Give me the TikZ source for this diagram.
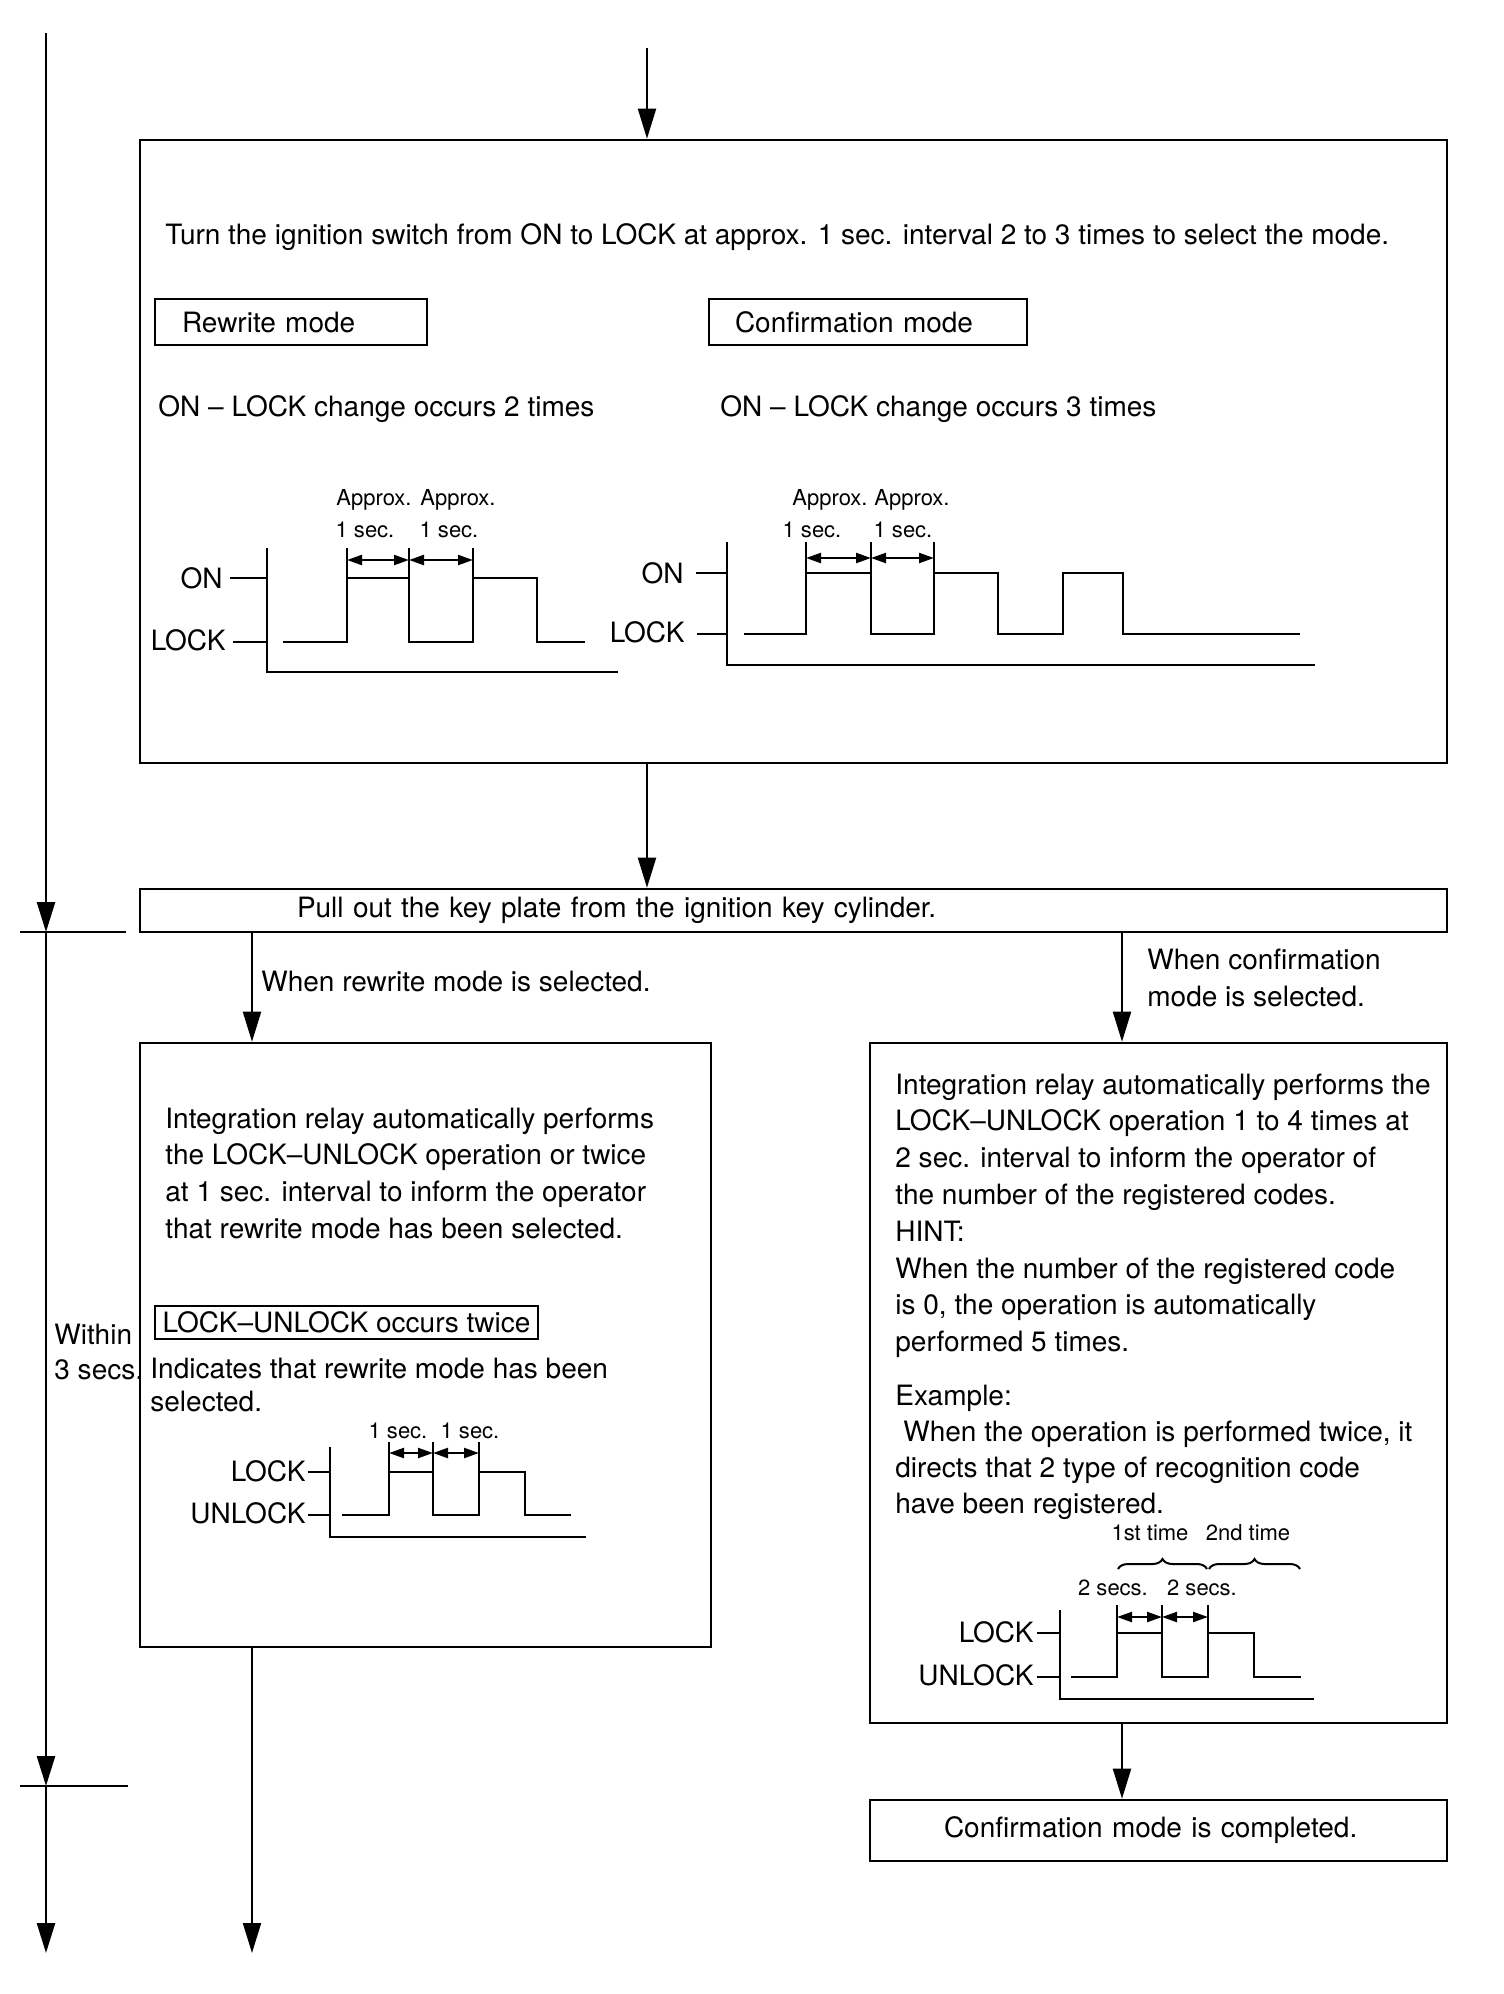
\documentclass[tikz,border=0pt]{standalone}
\usepackage{fontspec}
\setmainfont{TeX Gyre Heros}
\usetikzlibrary{arrows.meta,decorations.pathreplacing}
\begin{document}
\begin{tikzpicture}[x=0.5pt,y=-0.5pt,
  txt/.style={inner sep=0pt, font=\fontsize{14}{18}\selectfont},
  sml/.style={inner sep=0pt, font=\fontsize{11}{13}\selectfont},
  box/.style={draw, line width=1.3pt, inner sep=0pt, font=\fontsize{14}{18}\selectfont},
  arr/.style={line width=1pt, -{Triangle[length=15pt,width=9pt]}},
  sig/.style={line width=1.35pt},
  ext/.style={line width=1pt},
  dimarr/.style={line width=1.1pt, {Triangle[length=7.5pt,width=5pt]}-{Triangle[length=7.5pt,width=5pt]}},
  brc/.style={line width=1pt, decorate, decoration={brace, amplitude=5pt}}
]
\useasboundingbox[fill=white] (0,0) rectangle (1504,1994);

% ---------- main boxes ----------
\node[box, minimum width=653.5pt, minimum height=311.5pt] (top) at (793.5,451.5) {};
\node[box, minimum width=653.5pt, minimum height=21.5pt, text width=496.5pt, align=left] (key) at (793.5,910.5) {Pull out the key plate from the ignition key cylinder.};
\node[box, minimum width=285.5pt, minimum height=302pt] (lbox) at (425.5,1345) {};
\node[box, minimum width=288.5pt, minimum height=340pt] (rbox) at (1158.5,1383) {};
\node[box, minimum width=288.5pt, minimum height=30.5pt, text width=214.5pt, align=left] (done) at (1158.5,1830.5) {Confirmation mode is completed.};

% ---------- connectors ----------
\coordinate (tin) at (647,48);
\coordinate (xl) at (252,0);
\coordinate (xr) at (1122,0);
\coordinate (bl) at (252,1953);
\draw[arr] (tin) -- (top.north -| tin);
\draw[arr] (top.south -| tin) -- (key.north -| tin);
\draw[arr] (key.south -| xl) -- (lbox.north -| xl);
\draw[arr] (key.south -| xr) -- (rbox.north -| xr);
\draw[arr] (rbox.south -| xr) -- (done.north -| xr);
\draw[arr] (lbox.south -| xl) -- (bl);

% ---------- time line ----------
\coordinate (t0) at (46,33);
\coordinate (t1) at (46,932);
\coordinate (t2) at (46,1786);
\coordinate (t3) at (46,1953);
\draw[arr, line width=1.3pt] (t0) -- (t1);
\draw[arr, line width=1.3pt] (t1) -- (t2);
\draw[arr, line width=1.3pt] (t2) -- (t3);
\coordinate (k1a) at (20,932);  \coordinate (k1b) at (126,932);
\coordinate (k2a) at (20,1786); \coordinate (k2b) at (128,1786);
\draw[line width=1.3pt] (k1a) -- (k1b);
\draw[line width=1.3pt] (k2a) -- (k2b);
\node[txt, anchor=base west] (win1) at (54,1344) {Within};
\node[txt, anchor=base west] (win2) at (54,1379) {3 secs.};

% ---------- branch labels ----------
\node[txt, anchor=base west] (brl) at (261,991) {When rewrite mode is selected.};
\node[txt, anchor=base west] (brr1) at (1147,969) {When confirmation};
\node[txt, anchor=base west] (brr2) at (1147,1006) {mode is selected.};

% ---------- top box contents ----------
\node[txt, anchor=base west] (turn) at (165,244) {Turn the ignition switch from ON to LOCK at approx. 1 sec. interval 2 to 3 times to select the mode.};
\node[box, minimum width=136pt, minimum height=23pt, text width=109pt, align=left] (rw) at (291,322) {Rewrite mode};
\node[box, minimum width=159pt, minimum height=23pt, text width=133pt, align=left] (cf) at (868,322) {Confirmation mode};
\node[txt, anchor=base west] (ch2) at (158,416) {ON – LOCK change occurs 2 times};
\node[txt, anchor=base west] (ch3) at (720,416) {ON – LOCK change occurs 3 times};

% timing diagram 1
\draw[sig] (267,548) -- (267,672) -- (618,672);
\draw[sig] (230,578) -- (267,578);
\draw[sig] (233,642) -- (267,642);
\node[txt, anchor=east] (on1) at (223,578) {ON};
\node[txt, anchor=east] (lk1) at (226,640) {LOCK};
\draw[sig] (283,642) -| (347,578) -| (409,642) -| (473,578) -| (537,642) -- (585,642);
\draw[ext] (347,548) -- (347,578);
\draw[ext] (409,548) -- (409,578);
\draw[ext] (473,548) -- (473,578);
\draw[dimarr] (347,560) -- (409,560);
\draw[dimarr] (409,560) -- (473,560);
\node[sml] (ap1a) at (374,500) {Approx.};
\node[sml] (ap1b) at (458,500) {Approx.};
\node[sml] (s1a) at (365,530) {1 sec.};
\node[sml] (s1b) at (449,530) {1 sec.};

% timing diagram 2
\draw[sig] (727,542) -- (727,665) -- (1315,665);
\draw[sig] (696,573) -- (727,573);
\draw[sig] (697,634) -- (727,634);
\node[txt, anchor=east] (on2) at (684,573) {ON};
\node[txt, anchor=east] (lk2) at (685,632) {LOCK};
\draw[sig] (744,634) -| (806,573) -| (871,634) -| (934,573) -| (998,634) -| (1063,573) -| (1123,634) -- (1300,634);
\draw[ext] (806,542) -- (806,573);
\draw[ext] (871,542) -- (871,573);
\draw[ext] (934,542) -- (934,573);
\draw[dimarr] (806,558) -- (871,558);
\draw[dimarr] (871,558) -- (934,558);
\node[sml] (ap2a) at (830,500) {Approx.};
\node[sml] (ap2b) at (912,500) {Approx.};
\node[sml] (s2a) at (812,530) {1 sec.};
\node[sml] (s2b) at (903,530) {1 sec.};

% ---------- left box contents ----------
\foreach \s [count=\i] in {
  {Integration relay automatically performs},
  {the LOCK–UNLOCK operation or twice},
  {at 1 sec. interval to inform the operator},
  {that rewrite mode has been selected.}}
  \node[txt, anchor=base west] (lt\i) at (165,{1128+36.7*(\i-1)}) {\s};
\node[box, minimum width=191.5pt, minimum height=16.5pt] (luo) at (346.5,1322.5) {LOCK–UNLOCK occurs twice};
\node[txt, anchor=base west] (ind1) at (150,1378) {Indicates that rewrite mode has been};
\node[txt, anchor=base west] (ind2) at (150,1411) {selected.};

% timing diagram 3
\draw[sig] (330,1447) -- (330,1537) -- (586,1537);
\draw[sig] (308,1472) -- (330,1472);
\draw[sig] (308,1515) -- (330,1515);
\node[txt, anchor=east] (lk3) at (306,1471) {LOCK};
\node[txt, anchor=east] (ul3) at (306,1513) {UNLOCK};
\draw[sig] (342,1515) -| (389,1472) -| (433,1515) -| (479,1472) -| (525,1515) -- (571,1515);
\draw[ext] (389,1442) -- (389,1472);
\draw[ext] (433,1442) -- (433,1472);
\draw[ext] (479,1442) -- (479,1472);
\draw[dimarr] (389,1453) -- (433,1453);
\draw[dimarr] (433,1453) -- (479,1453);
\node[sml] (s3a) at (398,1431) {1 sec.};
\node[sml] (s3b) at (470,1431) {1 sec.};

% ---------- right box contents ----------
\foreach \s [count=\i] in {
  {Integration relay automatically performs the},
  {LOCK–UNLOCK operation 1 to 4 times at},
  {2 sec. interval to inform the operator of},
  {the number of the registered codes.},
  {HINT:},
  {When the number of the registered code},
  {is 0, the operation is automatically},
  {performed 5 times.}}
  \node[txt, anchor=base west] (rt\i) at (895,{1094+36.8*(\i-1)}) {\s};
\foreach \s [count=\i] in {
  {Example:},
  {\hspace{4pt}When the operation is performed twice, it},
  {directs that 2 type of recognition code},
  {have been registered.}}
  \node[txt, anchor=base west] (re\i) at (895,{1405+36*(\i-1)}) {\s};

% timing diagram 4
\draw[sig] (1060,1610) -- (1060,1699) -- (1314,1699);
\draw[sig] (1037,1633) -- (1060,1633);
\draw[sig] (1037,1677) -- (1060,1677);
\node[txt, anchor=east] (lk4) at (1034,1632) {LOCK};
\node[txt, anchor=east] (ul4) at (1034,1675) {UNLOCK};
\draw[sig] (1071,1677) -| (1117,1633) -| (1162,1677) -| (1208,1633) -| (1254,1677) -- (1301,1677);
\draw[ext] (1117,1605) -- (1117,1633);
\draw[ext] (1162,1605) -- (1162,1633);
\draw[ext] (1208,1605) -- (1208,1633);
\draw[dimarr] (1117,1617) -- (1162,1617);
\draw[dimarr] (1162,1617) -- (1208,1617);
\node[sml] (s4a) at (1113,1588) {2 secs.};
\node[sml] (s4b) at (1202,1588) {2 secs.};
\draw[brc] (1118,1569) -- (1207,1569);
\draw[brc] (1209,1569) -- (1300,1569);
\node[sml] (ft) at (1150,1533) {1st time};
\node[sml] (nd) at (1248,1533) {2nd time};
\end{tikzpicture}
\end{document}
